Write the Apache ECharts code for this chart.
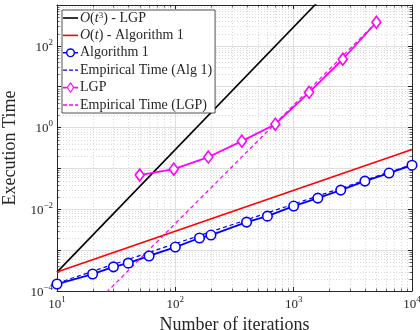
<!DOCTYPE html>
<html>
<head>
<meta charset="utf-8">
<script src="https://cdn.jsdelivr.net/npm/echarts@6/dist/echarts.min.js"></script>
<style>
html, body { margin: 0; padding: 0; background: #fff; }
#chart { width: 420px; height: 330px; }
</style>
</head>
<body>
<div id="chart"></div>
<script>
// values (log-log plot)
const algIters = [10, 20, 30, 40, 60, 100, 160, 200, 400, 600, 1000, 1600, 2500, 4000, 6400, 10000];
const algTime = [1.48e-4, 2.6e-4, 3.9e-4, 4.8e-4, 7.2e-4, 1.19e-3, 1.98e-3, 2.34e-3, 4.86e-3, 6.8e-3, 0.012, 0.0188, 0.0295, 0.049, 0.077, 0.12];
const lgpIters = [50, 97, 190, 365, 700, 1350, 2600, 5000];
const lgpTime = [0.069, 0.096, 0.19, 0.465, 1.21, 7.3, 47, 378];
const cubicRef = [[10, 2.9e-4], [10000, 2.9e5]];
const linearRef = [[10, 2.9e-4], [10000, 0.29]];
const algFit = [[10, 1.55e-4], [10000, 0.125]];
const lgpFit = [[10, 5.7e-6], [5000, 378]];

const xRange = [10, 10000];
const yRange = [1e-4, 1e3];
const minorSteps = [2, 3, 4, 5, 6, 7, 8, 9];

const names = ['cubic', 'linear', 'alg', 'algFit', 'lgp', 'lgpFit'];
const colors = ['#000000', '#ff0000', '#0000ff', '#0000ff', '#ff00ff', '#ff00ff'];
const legendText = {
    cubic: '{o|O}({i|t}{s|3}) - LGP',
    linear: '{o|O}({i|t}) - Algorithm 1',
    alg: 'Algorithm 1',
    algFit: 'Empirical Time (Alg 1)',
    lgp: 'LGP',
    lgpFit: 'Empirical Time (LGP)'
};

// legend icons drawn as paths (15px wide, kept at 1:1 by symbolKeepAspect)
const solidIcon = 'path://M0,0H15V1.6H0Z';
const dashIcon = 'path://M0,0H4V1.3H0Z M6,0H10V1.3H6Z M12,0H15V1.3H12Z';
const circleIcon = 'path://M0,4.2H3.2V5.8H0Z M11.8,4.2H15V5.8H11.8Z ' +
    'M3,5 A4.5,4.5 0 1,1 12,5 A4.5,4.5 0 1,1 3,5 Z ' +
    'M4.4,5 A3.1,3.1 0 1,0 10.6,5 A3.1,3.1 0 1,0 4.4,5 Z';
const diamondIcon = 'path://M0,4.7H3.6V6.3H0Z M11.4,4.7H15V6.3H11.4Z ' +
    'M7.5,0 L11.5,5.5 L7.5,11 L3.5,5.5 Z ' +
    'M7.5,1.9 L4.9,5.5 L7.5,9.1 L10.1,5.5 Z';
const legendIcons = [solidIcon, solidIcon, circleIcon, dashIcon, diamondIcon, dashIcon];

const serif = 'Liberation Serif';
const ink = '#262626';

function minorValues(lo, hi) {
    const out = [];
    for (let d = lo; d < hi; d *= 10) {
        minorSteps.forEach(function (m) { out.push(d * m); });
    }
    return out;
}
const xMinor = minorValues(xRange[0], xRange[1]);
const yMinor = minorValues(yRange[0], yRange[1]);

function pow10Label(evenOnly) {
    return function (value) {
        const e = Math.round(Math.log10(value));
        if (evenOnly && e % 2 !== 0) return '';
        return '{b|10}{e|' + String(e).replace('-', '\u2212') + '}';
    };
}
const tickRich = {
    b: { fontFamily: serif, fontSize: 13, color: ink, lineHeight: 16, verticalAlign: 'bottom' },
    e: { fontFamily: serif, fontSize: 9, color: ink, lineHeight: 16, verticalAlign: 'top' }
};

function minorRender(isX) {
    return function (params, api) {
        const cs = params.coordSys;
        const v = api.value(isX ? 0 : 1);
        const p = api.coord(isX ? [v, 1] : [100, v]);
        const grid = { stroke: '#c8c8c8', lineWidth: 0.7, lineDash: [1, 2] };
        const tick = { stroke: ink, lineWidth: 0.7 };
        if (isX) {
            const x = Math.round(p[0]) + 0.5;
            return {
                type: 'group', children: [
                    { type: 'line', shape: { x1: x, y1: cs.y, x2: x, y2: cs.y + cs.height }, style: grid },
                    { type: 'line', shape: { x1: x, y1: cs.y + cs.height, x2: x, y2: cs.y + cs.height - 2.5 }, style: tick },
                    { type: 'line', shape: { x1: x, y1: cs.y, x2: x, y2: cs.y + 2.5 }, style: tick }
                ]
            };
        }
        const y = Math.round(p[1]) + 0.5;
        return {
            type: 'group', children: [
                { type: 'line', shape: { x1: cs.x, y1: y, x2: cs.x + cs.width, y2: y }, style: grid },
                { type: 'line', shape: { x1: cs.x, y1: y, x2: cs.x + 2.5, y2: y }, style: tick },
                { type: 'line', shape: { x1: cs.x + cs.width, y1: y, x2: cs.x + cs.width - 2.5, y2: y }, style: tick }
            ]
        };
    };
}

function logAxis(range, pos, split, labels, evenOnly) {
    return {
        type: 'log',
        logBase: 10,
        min: range[0],
        max: range[1],
        splitNumber: split,
        position: pos,
        axisLine: { show: true, onZero: false, lineStyle: { color: ink, width: 1 } },
        axisTick: { show: true, inside: true, length: 4, lineStyle: { color: ink } },
        axisLabel: labels ? { show: true, margin: 4, formatter: pow10Label(evenOnly), rich: tickRich } : { show: false },
        splitLine: { show: labels, lineStyle: { color: '#dedede', width: 1 } }
    };
}

const chart = echarts.init(document.getElementById('chart'), null, { renderer: 'canvas' });

const xMain = logAxis(xRange, 'bottom', 3, true, false);
xMain.name = 'Number of iterations';
xMain.nameLocation = 'middle';
xMain.nameGap = 20;
xMain.nameTextStyle = { fontFamily: serif, fontSize: 18, color: ink };

const yMain = logAxis(yRange, 'left', 7, true, true);
yMain.name = 'Execution Time';
yMain.nameLocation = 'middle';
yMain.nameGap = 26;
yMain.nameTextStyle = { fontFamily: serif, fontSize: 18, color: ink };

chart.setOption({
    animation: false,
    backgroundColor: '#fff',
    grid: { left: 57, right: 8, top: 5, bottom: 39, containLabel: false, outerBoundsMode: 'none' },
    xAxis: [xMain, logAxis(xRange, 'top', 3, false, false)],
    yAxis: [yMain, logAxis(yRange, 'right', 7, false, false)],
    legend: {
        data: names.map(function (n, k) {
            return { name: n, icon: legendIcons[k], itemStyle: { color: colors[k], borderWidth: 0 } };
        }),
        orient: 'vertical',
        left: 62,
        top: 10,
        padding: [1, 3, 1, 1],
        itemGap: 3.4,
        itemWidth: 15,
        itemHeight: 13,
        symbolKeepAspect: true,
        backgroundColor: '#fff',
        borderColor: ink,
        borderWidth: 0.8,
        formatter: function (name) { return legendText[name]; },
        textStyle: {
            fontFamily: serif, fontSize: 14, color: ink, lineHeight: 13, padding: [0, 0, 0, -3],
            rich: {
                o: { fontFamily: serif, fontStyle: 'italic', fontSize: 14, color: ink, lineHeight: 13 },
                i: { fontFamily: serif, fontStyle: 'italic', fontSize: 14, color: ink, lineHeight: 13 },
                s: { fontFamily: serif, fontSize: 9, color: ink, lineHeight: 13, verticalAlign: 'top' }
            }
        }
    },
    series: [
        {
            type: 'custom', name: 'xminor', silent: true, z: 0,
            data: xMinor.map(function (v) { return [v, 1]; }),
            encode: { x: 0, y: 1 },
            renderItem: minorRender(true)
        },
        {
            type: 'custom', name: 'yminor', silent: true, z: 0,
            data: yMinor.map(function (v) { return [100, v]; }),
            encode: { x: 0, y: 1 },
            renderItem: minorRender(false)
        },
        {
            name: 'cubic', type: 'line', data: cubicRef, showSymbol: false, symbol: 'none',
            lineStyle: { color: colors[0], width: 1.6 }, itemStyle: { color: colors[0] }, z: 3
        },
        {
            name: 'linear', type: 'line', data: linearRef, showSymbol: false, symbol: 'none',
            lineStyle: { color: colors[1], width: 1.6 }, itemStyle: { color: colors[1] }, z: 3
        },
        {
            name: 'alg', type: 'line', data: algIters.map(function (x, k) { return [x, algTime[k]]; }),
            symbol: 'circle', symbolSize: 9.5,
            lineStyle: { color: colors[2], width: 1.8 },
            itemStyle: { color: '#ffffff', borderColor: colors[2], borderWidth: 1.6 }, z: 4
        },
        {
            name: 'algFit', type: 'line', data: algFit, showSymbol: false, symbol: 'none',
            lineStyle: { color: colors[3], width: 1.2, type: [4, 3] }, itemStyle: { color: colors[3] }, z: 4
        },
        {
            name: 'lgp', type: 'line', data: lgpIters.map(function (x, k) { return [x, lgpTime[k]]; }),
            symbol: 'diamond', symbolSize: [9, 12],
            lineStyle: { color: colors[4], width: 1.8 },
            itemStyle: { color: '#ffffff', borderColor: colors[4], borderWidth: 1.6 }, z: 4
        },
        {
            name: 'lgpFit', type: 'line', data: lgpFit, showSymbol: false, symbol: 'none',
            lineStyle: { color: colors[5], width: 1.2, type: [4, 3] }, itemStyle: { color: colors[5] }, z: 4
        }
    ]
});
</script>
</body>
</html>
